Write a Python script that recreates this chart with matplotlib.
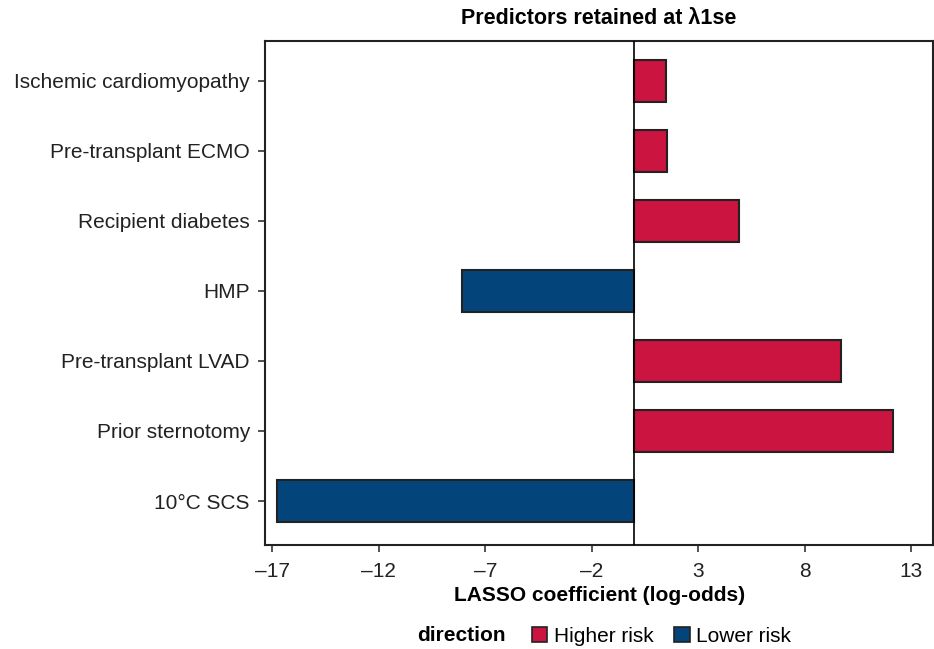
import matplotlib.pyplot as plt
from matplotlib.patches import Patch

plt.rcParams['font.family'] = ['Liberation Sans', 'DejaVu Sans']

# predictors, bottom to top
predictors = ["10°C SCS", "Prior sternotomy", "Pre-transplant LVAD", "HMP",
              "Recipient diabetes", "Pre-transplant ECMO", "Ischemic cardiomyopathy"]
coefs = [-16.78, 12.15, 9.70, -8.09, 4.92, 1.56, 1.51]
ticks = [-17, -12, -7, -2, 3, 8, 13]

red = "#cc1440"
blue = "#03457a"
colors = [red if c > 0 else blue for c in coefs]

fig = plt.figure(figsize=(9.34, 6.49), dpi=100)
ax = fig.add_axes([0.284, 0.160, 0.715, 0.777])

ypos = list(range(len(predictors)))
ax.barh(ypos, coefs, height=0.6, color=colors, edgecolor="#222222", linewidth=1.5, zorder=2)
ax.axvline(0, color="black", linewidth=1.2, zorder=3)

ax.set_yticks(ypos)
ax.set_yticklabels(predictors, fontsize=15, color="#222222")
ax.set_xticks(ticks)
ax.set_xticklabels([str(t).replace("-", "\u2013") for t in ticks], fontsize=15, color="#222222")
ax.set_xlim(-17.34, 14.04)
ax.set_ylim(-0.63, 6.57)

for s in ax.spines.values():
    s.set_linewidth(1.5)
    s.set_color("#222222")
ax.tick_params(axis="both", length=5, width=1.2, color="#333333")
ax.tick_params(axis="y", pad=6)
ax.tick_params(axis="x", pad=7)

ax.set_title("Predictors retained at \u03bb1se", fontsize=15.5, fontweight="bold", pad=12)
ax.set_xlabel("LASSO coefficient (log-odds)", fontsize=15, fontweight="bold", labelpad=4)

# legend along the bottom
fig.text(0.541, 0.006, "direction", fontsize=15, fontweight="bold", ha="right", va="bottom")
handles = [Patch(facecolor=red, edgecolor="#222222", linewidth=1.2, label="Higher risk"),
           Patch(facecolor=blue, edgecolor="#222222", linewidth=1.2, label="Lower risk")]
fig.legend(handles=handles, ncol=2, loc="lower left", bbox_to_anchor=(0.556, -0.014),
           frameon=False, fontsize=15, handlelength=0.75, handleheight=0.75,
           handletextpad=0.3, columnspacing=1.0, borderaxespad=0.2)

fig.savefig("out.png", dpi=100)
